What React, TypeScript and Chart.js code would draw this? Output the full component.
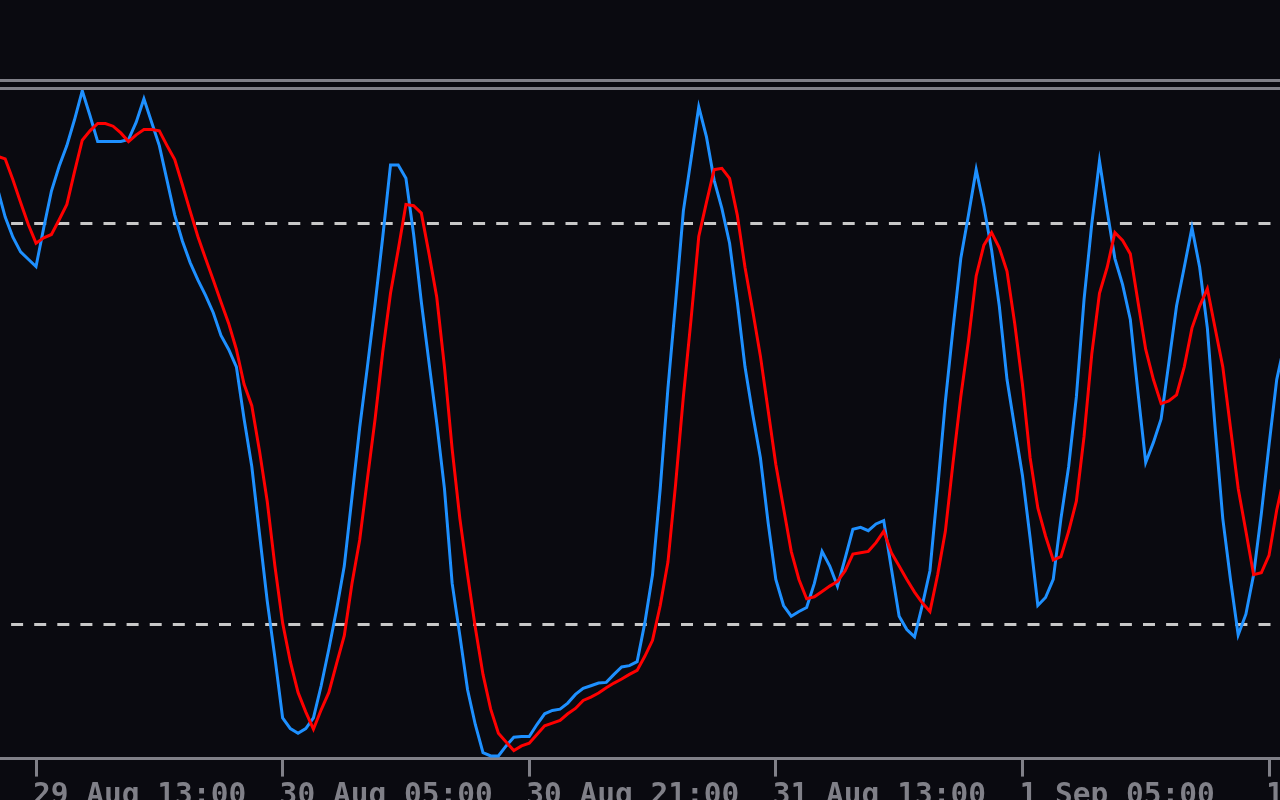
import React, { useEffect, useRef } from "react";
import { Chart, registerables } from "chart.js";

Chart.register(...registerables);

// Bar index of the first sample and the spacing between samples (bars, M15)
const FIRST_BAR = -10;
const BAR_STEP = 2;

// %K main line (blue)
const K_VALUES = [
  85.3, 81.0, 78.0, 75.8, 74.7, 73.6, 79.4, 84.9, 88.6, 91.7,
  95.6, 99.9, 96.2, 92.3, 92.3, 92.3, 92.3, 92.6, 95.2, 98.7,
  95.2, 91.7, 86.5, 81.3, 77.4, 74.2, 71.6, 69.3, 66.7, 63.3,
  61.2, 58.6, 50.8, 43.7, 33.6, 23.6, 15.1, 6.1, 4.5, 3.8,
  4.5, 6.1, 10.9, 16.4, 22.3, 28.8, 39.1, 49.5, 58.6, 68.0,
  78.1, 88.8, 88.8, 86.8, 78.4, 68.3, 59.2, 50.2, 40.4, 26.2,
  18.4, 10.3, 5.1, 0.9, 0.4, 0.4, 1.9, 3.2, 3.3, 3.3,
  5.1, 6.7, 7.2, 7.4, 8.3, 9.6, 10.5, 10.9, 11.3, 11.4,
  12.6, 13.7, 13.9, 14.5, 20.3, 27.5, 40.4, 55.4, 68.3, 81.9,
  89.7, 97.5, 93.0, 86.5, 82.3, 77.1, 68.3, 58.6, 51.5, 45.0,
  35.3, 26.8, 22.9, 21.3, 22.0, 22.6, 26.2, 31.0, 28.8, 25.8,
  30.0, 34.3, 34.6, 34.1, 35.1, 35.6, 28.4, 21.3, 19.3, 18.2,
  22.9, 28.1, 40.4, 53.4, 64.4, 74.8, 81.3, 88.1, 82.6, 76.1,
  67.7, 56.7, 49.5, 42.4, 33.0, 22.9, 24.1, 26.8, 35.9, 43.7,
  54.1, 68.7, 80.0, 89.4, 81.9, 74.8, 70.9, 65.7, 54.7, 44.3,
  47.3, 50.8, 59.2, 67.7, 73.5, 79.4, 73.5, 64.4, 49.5, 35.9,
  26.8, 18.5, 21.6, 27.5, 36.6, 46.9, 56.7, 62.0,
];

// %D signal line (red)
const D_VALUES = [
  90.1, 89.7, 86.6, 83.2, 79.9, 77.1, 77.9, 78.4, 80.6, 82.9,
  87.8, 92.5, 93.9, 95.0, 95.0, 94.6, 93.6, 92.3, 93.3, 94.1,
  94.1, 93.9, 91.7, 89.6, 85.8, 81.9, 78.1, 74.8, 71.6, 68.3,
  65.1, 61.2, 56.0, 52.8, 46.0, 38.5, 28.8, 20.3, 14.5, 9.9,
  7.0, 4.4, 7.3, 9.9, 14.2, 18.4, 26.2, 32.7, 41.8, 50.8,
  60.9, 69.6, 76.1, 82.9, 82.7, 81.6, 75.5, 69.0, 58.6, 46.3,
  35.9, 27.5, 19.6, 12.6, 7.4, 3.8, 2.5, 1.2, 1.9, 2.3,
  3.6, 4.9, 5.3, 5.7, 6.7, 7.5, 8.7, 9.2, 9.8, 10.6,
  11.3, 11.9, 12.6, 13.2, 15.3, 17.7, 22.9, 29.4, 41.1, 54.1,
  65.7, 78.1, 83.2, 88.1, 88.3, 86.8, 81.3, 73.5, 67.0, 60.2,
  52.1, 44.0, 37.5, 31.0, 26.8, 23.9, 24.2, 25.0, 25.8, 26.5,
  28.1, 30.6, 30.8, 31.0, 32.3, 34.0, 30.8, 28.8, 26.8, 24.9,
  23.3, 22.0, 27.5, 34.0, 44.3, 54.1, 62.5, 72.2, 76.8, 78.7,
  76.4, 72.9, 65.1, 56.0, 45.0, 37.5, 33.3, 29.7, 30.2, 34.0,
  38.5, 48.2, 60.5, 69.6, 73.5, 78.7, 77.5, 75.5, 68.3, 61.2,
  56.7, 53.1, 53.5, 54.4, 58.6, 64.4, 67.7, 70.3, 64.4, 58.6,
  49.5, 40.4, 34.0, 27.5, 27.8, 30.4, 37.2, 42.3,
];

// Time axis ticks (bar index) and their labels
const TICK_BARS = [0, 64, 128, 192, 256, 320];
const TICK_LABELS = [
  "29 Aug 13:00",
  "30 Aug 05:00",
  "30 Aug 21:00",
  "31 Aug 13:00",
  "1 Sep 05:00",
  "1 Sep 21:00",
];

// Oscillator levels
const LEVELS = [20, 80];

// Visible bar range
const X_MIN = -9.35;
const X_MAX = 322.85;

const BG = "#0a0a10";
const GRAY = "#808088";
const LEVEL_COLOR = "#c8c8c8";
const K_COLOR = "#1e90ff";
const D_COLOR = "#ff0000";

const framePlugin = {
  id: "frame",
  beforeDraw(chart: any) {
    const { ctx, width, height } = chart;
    ctx.save();
    ctx.fillStyle = BG;
    ctx.fillRect(0, 0, width, height);
    ctx.fillStyle = GRAY;
    ctx.fillRect(0, 79, width, 3);
    ctx.fillRect(0, 87, width, 3);
    ctx.restore();
  },
};

export default function App() {
  const ref = useRef<HTMLCanvasElement | null>(null);

  useEffect(() => {
    if (!ref.current) return;
    const toPts = (arr: number[]) =>
      arr.map((v, k) => ({ x: FIRST_BAR + k * BAR_STEP, y: v }));

    const chart = new Chart(ref.current, {
      type: "line",
      data: {
        datasets: [
          {
            label: "%D",
            data: toPts(D_VALUES),
            borderColor: D_COLOR,
            borderWidth: 3,
            pointRadius: 0,
            tension: 0,
            fill: false,
          },
          {
            label: "%K",
            data: toPts(K_VALUES),
            borderColor: K_COLOR,
            borderWidth: 3,
            pointRadius: 0,
            tension: 0,
            fill: false,
          },
        ],
      },
      options: {
        animation: false,
        responsive: true,
        maintainAspectRatio: false,
        layout: { padding: { top: 90.1, left: 0, right: 0, bottom: 0 } },
        plugins: {
          legend: { display: false },
          tooltip: { enabled: false },
          title: { display: false },
        },
        scales: {
          x: {
            type: "linear",
            position: "bottom",
            min: X_MIN,
            max: X_MAX,
            afterBuildTicks: (s: any) => {
              s.ticks = TICK_BARS.map((v) => ({ value: v }));
            },
            afterFit: (s: any) => {
              s.height = 41.4;
              s.paddingLeft = 0;
              s.paddingRight = 0;
            },
            grid: {
              display: true,
              drawOnChartArea: false,
              drawTicks: true,
              tickLength: 18,
              tickWidth: 3,
              tickColor: GRAY,
              color: GRAY,
              lineWidth: 3,
            },
            border: { display: true, color: GRAY, width: 3 },
            ticks: {
              color: GRAY,
              font: { family: "DejaVu Sans Mono", size: 29.5, weight: "bold" },
              align: "start",
              padding: 2,
              labelOffset: -3,
              autoSkip: false,
              maxRotation: 0,
              minRotation: 0,
              callback: (_v: any, i: number) => TICK_LABELS[i],
            },
          },
          y: {
            type: "linear",
            position: "left",
            min: 0,
            max: 100,
            afterBuildTicks: (s: any) => {
              s.ticks = LEVELS.map((v) => ({ value: v }));
            },
            afterFit: (s: any) => {
              s.width = 0;
            },
            ticks: { display: false },
            grid: {
              display: true,
              drawTicks: false,
              color: LEVEL_COLOR,
              lineWidth: 3,
            },
            border: { display: false, dash: [12, 11.1], dashOffset: 12 },
          },
        },
      },
      plugins: [framePlugin],
    });
    return () => chart.destroy();
  }, []);

  return (
    <div
      style={{
        position: "fixed",
        left: 0,
        top: 0,
        width: 1280,
        height: 800,
        background: BG,
      }}
    >
      <canvas ref={ref} />
    </div>
  );
}
